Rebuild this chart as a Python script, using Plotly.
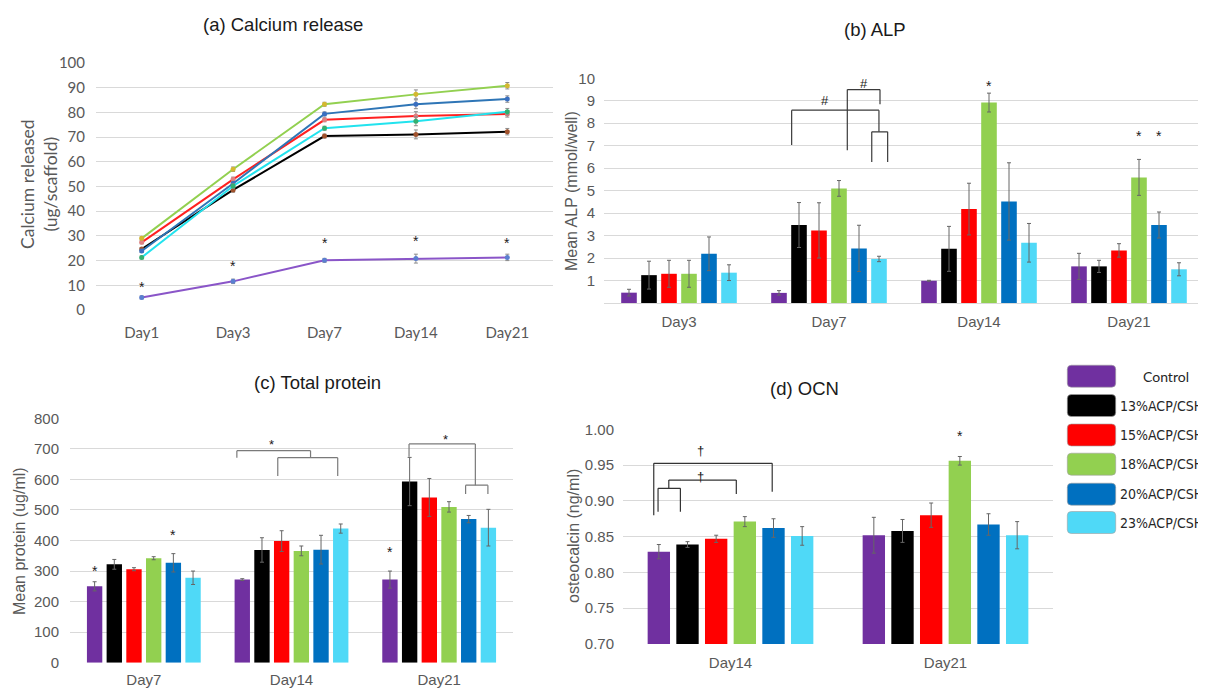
import plotly.graph_objects as go

# page geometry: the browser body has an 8px margin, so the figure is sized to fill the rest
PAGE_W, PAGE_H = 1206, 689
OX, OY = 8, 8
W, H = PAGE_W - OX, PAGE_H - OY

# ---------------- data ----------------
series = ["Control", "13%ACP/CSH", "15%ACP/CSH", "18%ACP/CSH", "20%ACP/CSH", "23%ACP/CSH"]
bar_colors = ["#7030A0", "#000000", "#FF0000", "#92D050", "#0070C0", "#4FD9F7"]
line_colors = ["#8A55C8", "#000000", "#FF2020", "#92D050", "#2E75B6", "#22E3EE"]
marker_colors = ["#5B7FD0", "#A0522D", "#E08080", "#D4B830", "#3A6FC0", "#33B070"]

# (a) Calcium release
days_a = ["Day1", "Day3", "Day7", "Day14", "Day21"]
ca_control = [5.1, 11.6, 20.1, 20.8, 21.3]
ca_13 = [24.7, 48.6, 70.4, 71.1, 72.2]
ca_15 = [27.4, 52.9, 77.0, 78.5, 79.4]
ca_18 = [29.0, 57.0, 83.3, 87.3, 90.8]
ca_20 = [23.9, 51.2, 79.4, 83.3, 85.4]
ca_23 = [21.3, 50.2, 73.6, 76.4, 80.3]
ca_err = [0.6, 0.9, 0.8, 1.8, 1.3]
ca_star = [10.5, 19.1, 28.3, 29.1, 28.2]

# (b) ALP
days_b = ["Day3", "Day7", "Day14", "Day21"]
alp_control = [0.46, 0.45, 0.99, 1.63]
alp_13 = [1.24, 3.47, 2.41, 1.63]
alp_15 = [1.30, 3.23, 4.18, 2.34]
alp_18 = [1.30, 5.10, 8.92, 5.59]
alp_20 = [2.19, 2.43, 4.52, 3.47]
alp_23 = [1.35, 1.96, 2.68, 1.50]
alp_control_err = [0.15, 0.10, 0.02, 0.58]
alp_13_err = [0.62, 1.00, 1.00, 0.27]
alp_15_err = [0.60, 1.23, 1.15, 0.30]
alp_18_err = [0.60, 0.35, 0.42, 0.80]
alp_20_err = [0.75, 1.03, 1.72, 0.58]
alp_23_err = [0.35, 0.12, 0.86, 0.29]

# (c) Total protein
days_c = ["Day7", "Day14", "Day21"]
prot_control = [250, 272, 272]
prot_13 = [322, 369, 593]
prot_15 = [306, 398, 541]
prot_18 = [342, 366, 510]
prot_20 = [327, 370, 470]
prot_23 = [278, 439, 442]
prot_control_err = [15, 3, 28]
prot_13_err = [16, 40, 79]
prot_15_err = [5, 34, 62]
prot_18_err = [5, 16, 17]
prot_20_err = [30, 47, 12]
prot_23_err = [22, 15, 60]

# (d) OCN
days_d = ["Day14", "Day21"]
ocn_control = [0.829, 0.852]
ocn_13 = [0.839, 0.858]
ocn_15 = [0.847, 0.880]
ocn_18 = [0.871, 0.956]
ocn_20 = [0.862, 0.867]
ocn_23 = [0.851, 0.852]
ocn_control_err = [0.010, 0.025]
ocn_13_err = [0.004, 0.016]
ocn_15_err = [0.005, 0.017]
ocn_18_err = [0.007, 0.006]
ocn_20_err = [0.013, 0.015]
ocn_23_err = [0.013, 0.019]

# significance marks: (category index, series index, value)
alp_stars = [(2, 3, 9.77), (3, 3, 7.57), (3, 4, 7.57)]
prot_stars = [(0, 0, 309), (0, 4, 427), (2, 0, 373)]
ocn_stars = [(1, 3, 0.995)]

# bracket polylines in data units (category position, value)
alp_brackets = [
    [(0.751, 7.03), (0.751, 8.58), (1.333, 8.58), (1.333, 7.62)],
    [(1.285, 6.28), (1.285, 7.62), (1.391, 7.62), (1.391, 6.28)],
    [(1.122, 6.80), (1.122, 9.50), (1.340, 9.50), (1.340, 8.84)],
]
alp_bracket_labels = [(0.973, 9.03, "#"), (1.233, 9.78, "#")]
prot_brackets = [
    [(0.630, 671), (0.630, 694), (1.129, 694), (1.129, 671)],
    [(0.907, 611), (0.907, 671), (1.313, 671), (1.313, 611)],
    [(1.796, 674), (1.796, 716), (2.245, 716), (2.245, 581)],
    [(2.179, 552), (2.179, 581), (2.330, 581), (2.330, 552)],
]
prot_bracket_labels = [(0.863, 723, "*"), (2.042, 742, "*")]
ocn_brackets = [
    [(-0.357, 0.8800), (-0.357, 0.9524), (0.194, 0.9524), (0.194, 0.9127)],
    [(-0.287, 0.9175), (-0.287, 0.9290), (0.027, 0.9290), (0.027, 0.9095)],
    [(-0.337, 0.8848), (-0.337, 0.9175), (-0.233, 0.9175), (-0.233, 0.8848)],
]
ocn_bracket_labels = [(-0.14, 0.971, "†"), (-0.14, 0.9346, "†")]

# ---------------- styling ----------------
BARGAP = 0.2
BARGROUPGAP = 0.22
GRID = "#D9D9D9"
TICK = "#595959"
ARIAL = "Liberation Sans, Arial, sans-serif"
CALIBRI = "Lato, Carlito, sans-serif"
NARROW = "Liberation Sans Narrow, DejaVu Sans Condensed, Arial Narrow, sans-serif"


def PX(p):
    return (p - OX) / W


def PY(p):
    return 1 - (p - OY) / H


fig = go.Figure()

# (a) lines
ca_series = [ca_control, ca_13, ca_15, ca_18, ca_20, ca_23]
for i, ys in enumerate(ca_series):
    fig.add_trace(go.Scatter(
        x=days_a, y=ys, mode="lines+markers", name=series[i],
        line=dict(color=line_colors[i], width=2),
        marker=dict(color=marker_colors[i], size=5),
        error_y=dict(type="data", array=ca_err, color="#8C8C8C", thickness=1, width=2),
        xaxis="x", yaxis="y", showlegend=False))


def add_bars(cats, vals, errs, xa, ya):
    for i in range(6):
        fig.add_trace(go.Bar(
            x=cats, y=vals[i], name=series[i], marker=dict(color=bar_colors[i], line=dict(width=0)),
            error_y=dict(type="data", array=errs[i], color="#666666", thickness=1, width=2),
            xaxis=xa, yaxis=ya, showlegend=False))


add_bars(days_b, [alp_control, alp_13, alp_15, alp_18, alp_20, alp_23],
         [alp_control_err, alp_13_err, alp_15_err, alp_18_err, alp_20_err, alp_23_err], "x2", "y2")
add_bars(days_c, [prot_control, prot_13, prot_15, prot_18, prot_20, prot_23],
         [prot_control_err, prot_13_err, prot_15_err, prot_18_err, prot_20_err, prot_23_err], "x3", "y3")
add_bars(days_d, [ocn_control, ocn_13, ocn_15, ocn_18, ocn_20, ocn_23],
         [ocn_control_err, ocn_13_err, ocn_15_err, ocn_18_err, ocn_20_err, ocn_23_err], "x4", "y4")


def dx(px0, px1):
    return [PX(px0), PX(px1)]


def dy(top, bottom):
    return [PY(bottom), PY(top)]


xcommon = dict(type="category", showgrid=False, zeroline=False, showline=False, ticks="",
               automargin=False, tickfont=dict(family=ARIAL, size=15, color=TICK))
ycommon = dict(showgrid=True, gridcolor=GRID, gridwidth=1, zeroline=False, showline=False, ticks="",
               automargin=False, tickfont=dict(family=ARIAL, size=15, color=TICK))

layout = dict(
    width=W, height=H, margin=dict(l=0, r=0, t=0, b=0, autoexpand=False),
    paper_bgcolor="white", plot_bgcolor="white",
    barmode="group", bargap=BARGAP, bargroupgap=BARGROUPGAP, showlegend=False,
    xaxis=dict(xcommon, domain=dx(96, 553), anchor="y", range=[-0.5, 4.5],
               tickfont=dict(family=CALIBRI, size=15, color=TICK), ticklabelstandoff=12),
    yaxis=dict(ycommon, domain=dy(63, 310), anchor="x", range=[0, 100], tickvals=list(range(0, 101, 10)),
               tickfont=dict(family=CALIBRI, size=15, color=TICK), ticklabelstandoff=10),
    xaxis2=dict(xcommon, domain=dx(604, 1204), anchor="y2", range=[-0.5, 3.5],
                showline=True, linecolor=GRID, ticklabelstandoff=5),
    yaxis2=dict(ycommon, domain=dy(78.3, 303), anchor="x2", range=[0, 10], tickvals=list(range(1, 11)),
                ticklabelstandoff=8),
    xaxis3=dict(xcommon, domain=dx(70, 513), anchor="y3", range=[-0.5, 2.5], ticklabelstandoff=6),
    yaxis3=dict(ycommon, domain=dy(418.3, 662.7), anchor="x3", range=[0, 800],
                tickvals=list(range(0, 801, 100)), ticklabelstandoff=10),
    xaxis4=dict(xcommon, domain=dx(623, 1053), anchor="y4", range=[-0.5, 1.5], ticklabelstandoff=8),
    yaxis4=dict(ycommon, domain=dy(429.3, 644), anchor="x4", range=[0.70, 1.00],
                tickvals=[0.70, 0.75, 0.80, 0.85, 0.90, 0.95, 1.00], tickformat=".2f",
                ticklabelstandoff=8),
)
fig.update_layout(**layout)

annotations = []
shapes = []


def title(text, cx, cy):
    annotations.append(dict(text=text, x=PX(cx), y=PY(cy), xref="paper", yref="paper",
                            showarrow=False, xanchor="center", yanchor="middle",
                            font=dict(family=ARIAL, size=18.5, color="#1A1A1A")))


title("(a) Calcium release", 283, 25)
title("(b) ALP", 875, 29)
title("(c) Total protein", 317, 382)
title("(d) OCN", 804, 388)


def ytitle(text, cx, cy, fam, size):
    annotations.append(dict(text=text, x=PX(cx), y=PY(cy), xref="paper", yref="paper",
                            showarrow=False, xanchor="center", yanchor="middle", textangle=-90,
                            font=dict(family=fam, size=size, color=TICK)))


ytitle("Calcium released<br>(ug/scaffold)", 39, 184, CALIBRI, 17.5)
ytitle("Mean ALP (mmol/well)", 572, 191, ARIAL, 16)
ytitle("Mean protein (ug/ml)", 19, 541, ARIAL, 16)
ytitle("osteocalcin (ng/ml)", 573, 536, ARIAL, 16)


def star(x, y, xa, ya, text="*", size=14):
    annotations.append(dict(text=text, x=x, y=y, xref=xa, yref=ya, showarrow=False,
                            xanchor="center", yanchor="middle", yshift=-3 if text == "*" else 0,
                            font=dict(family=ARIAL, size=size, color="#1A1A1A")))


for i, v in enumerate(ca_star):
    star(i, v, "x", "y")

step = (1 - BARGAP) / 6


def off(s):
    return (s - 2.5) * step


for c, s, v in alp_stars:
    star(c + off(s), v, "x2", "y2")
for c, s, v in prot_stars:
    star(c + off(s), v, "x3", "y3")
for c, s, v in ocn_stars:
    star(c + off(s), v, "x4", "y4")


def brackets(lst, labels, xa, ya, color):
    for poly in lst:
        for (x0, y0), (x1, y1) in zip(poly[:-1], poly[1:]):
            shapes.append(dict(type="line", xref=xa, yref=ya, x0=x0, y0=y0, x1=x1, y1=y1,
                               line=dict(color=color, width=1.2)))
    for x, y, t in labels:
        star(x, y, xa, ya, text=t, size=13)


brackets(alp_brackets, alp_bracket_labels, "x2", "y2", "#3A3A3A")
brackets(prot_brackets, prot_bracket_labels, "x3", "y3", "#7A7A7A")
brackets(ocn_brackets, ocn_bracket_labels, "x4", "y4", "#333333")

# custom legend (rounded swatches)
leg_centers = [376.2, 405.5, 435.0, 464.2, 494.2, 522.5]
bx0, bx1, bh, r = 1067.3, 1115.7, 22.0, 4.0
for i, cy in enumerate(leg_centers):
    t, b = cy - bh / 2, cy + bh / 2
    path = (f"M {PX(bx0 + r)},{PY(t)} L {PX(bx1 - r)},{PY(t)} Q {PX(bx1)},{PY(t)} {PX(bx1)},{PY(t + r)} "
            f"L {PX(bx1)},{PY(b - r)} Q {PX(bx1)},{PY(b)} {PX(bx1 - r)},{PY(b)} "
            f"L {PX(bx0 + r)},{PY(b)} Q {PX(bx0)},{PY(b)} {PX(bx0)},{PY(b - r)} "
            f"L {PX(bx0)},{PY(t + r)} Q {PX(bx0)},{PY(t)} {PX(bx0 + r)},{PY(t)} Z")
    shapes.append(dict(type="path", xref="paper", yref="paper", path=path,
                       fillcolor=bar_colors[i], line=dict(color="#A0A0A0", width=0.6)))
    if i == 0:
        annotations.append(dict(text=series[i], x=PX(1166), y=PY(cy), xref="paper", yref="paper",
                                showarrow=False, xanchor="center", yanchor="middle",
                                font=dict(family=CALIBRI, size=14, color="#262626")))
    else:
        annotations.append(dict(text=series[i], x=PX(1117.5), y=PY(cy), xref="paper", yref="paper",
                                showarrow=False, xanchor="left", yanchor="middle",
                                font=dict(family=NARROW, size=14, color="#262626")))

fig.update_layout(annotations=annotations, shapes=shapes)
fig.write_html("out.html")
